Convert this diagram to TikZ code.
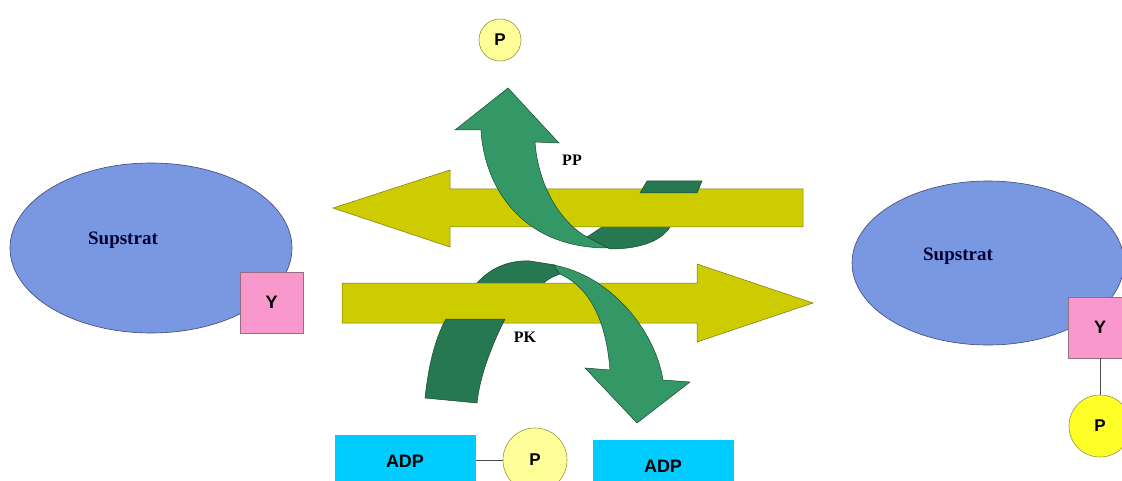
\documentclass[tikz,border=0pt]{standalone}
\usepackage{fontspec}
\setmainfont{Liberation Serif}
\newfontfamily\arialf{Liberation Sans}
\usetikzlibrary{shapes.geometric}
\definecolor{subblue}{RGB}{122,152,226}
\definecolor{subedge}{RGB}{60,70,120}
\definecolor{ypink}{RGB}{248,152,204}
\definecolor{yedge}{RGB}{150,110,130}
\definecolor{adpcyan}{RGB}{0,204,255}
\definecolor{plight}{RGB}{255,255,153}
\definecolor{pbright}{RGB}{255,255,40}
\definecolor{pedge}{RGB}{150,150,60}
\definecolor{olivey}{RGB}{204,204,0}
\definecolor{olivee}{RGB}{120,120,20}
\definecolor{gfront}{RGB}{52,152,102}
\definecolor{gback}{RGB}{38,120,80}
\definecolor{gedge}{RGB}{25,70,45}
\begin{document}
\begin{tikzpicture}[x=1pt,y=-1pt,
  substrate/.style={ellipse,draw=subedge,line width=0.6pt,fill=subblue,inner sep=0pt},
  ybox/.style={draw=yedge,line width=0.6pt,fill=ypink,inner sep=0pt,minimum width=63pt,minimum height=61pt,font=\arialf\fontsize{18}{20}\selectfont\bfseries},
  pcirc/.style={circle,draw=pedge,line width=0.6pt,inner sep=0pt,font=\arialf\fontsize{17}{20}\selectfont\bfseries},
  adpbox/.style={fill=adpcyan,inner sep=0pt,minimum width=141pt,minimum height=55pt},
  adptext/.style={font=\arialf\fontsize{18}{20}\selectfont\bfseries,inner sep=0pt},
  subtext/.style={font=\fontsize{19}{22}\selectfont\bfseries,text=black!80!blue,inner sep=0pt},
  enztext/.style={font=\fontsize{16}{18}\selectfont\bfseries,inner sep=0pt},
  yarrow/.style={fill=olivey,draw=olivee,line width=0.5pt,line join=miter},
  gfr/.style={fill=gfront,draw=gedge,line width=0.5pt},
  gbk/.style={fill=gback,draw=gedge,line width=0.5pt},
  link/.style={draw=black!70,line width=0.7pt}
]
\path[use as bounding box] (0,0) rectangle (1122,481);
\clip (0,0) rectangle (1122,481);

% left substrate
\node[substrate,minimum width=282pt,minimum height=170pt] (subL) at (151,248) {};
\node[subtext] (subLt) at (123,240) {Supstrat};
\node[ybox] (yL) at (271.5,302.5) {Y};

% right substrate
\node[substrate,minimum width=272pt,minimum height=164pt] (subR) at (988,263) {};
\node[subtext] (subRt) at (958,256) {Supstrat};
\node[ybox,minimum width=64pt] (yR) at (1100,327.5) {Y};
\node[pcirc,fill=pbright,minimum size=62pt] (pR) at (1100,426) {P};
\draw[link] (yR.south) -- (pR.north);

% top P
\node[pcirc,fill=plight,minimum size=42pt] (pTop) at (500,40) {P};

% bottom ADP + P
\node[adpbox,anchor=north west] (adpL) at (335,435) {};
\node[adptext] (adpLt) at (405,461) {ADP};
\node[pcirc,fill=plight,minimum size=64pt] (pB) at (535,460) {P};
\draw[link] (adpL.east |- pB.west) -- (pB.west);
\node[adpbox,anchor=north west] (adpR) at (593,440) {};
\node[adptext] (adpRt) at (663,466) {ADP};

% ---- PP ribbon: back parts (behind upper yellow arrow)
\path[gbk] (587,237) -- (605,225) -- (640,195) -- (695,195) -- (670,227)
  .. controls (662,240) and (642,249) .. (610,249) -- cycle;
% ---- PK ribbon: back arch (behind lower yellow arrow)
\path[gbk] (470,292) -- (477,283) .. controls (492,266) and (512,260) .. (530,261)
  -- (555,265) -- (560,274) .. controls (552,277) and (546,280) .. (542,285) -- (530,300) -- cycle;

% upper yellow arrow (pointing left)
\path[yarrow] (803,189) -- (450,189) -- (450,170) -- (333,208) -- (450,247) -- (450,227) -- (803,227) -- cycle;
% lower yellow arrow (pointing right)
\path[yarrow] (342,283) -- (697,283) -- (697,264) -- (813,303) -- (697,342) -- (697,323) -- (342,323) -- cycle;

% PP tail piece on top of yellow
\path[gbk] (640,193) -- (647,181) -- (702,181) -- (697,193) -- cycle;
% PP front part with head
\path[gfr] (587,237) .. controls (560,222) and (538,185) .. (535,142) -- (559,143) -- (508,88)
  -- (455,130) -- (481,130) .. controls (484,185) and (520,248) .. (608,248) -- cycle;

% PK tail piece below lower arrow
\path[gbk] (446,319) -- (505,319) .. controls (492,345) and (480,375) .. (477,403)
  -- (425,398) .. controls (428,370) and (434,340) .. (446,319) -- cycle;
% PK front part with head
\path[gfr] (553,265) .. controls (610,275) and (655,330) .. (663,380) -- (690,382) -- (637,423)
  -- (585,368) -- (610,370) .. controls (606,320) and (590,288) .. (560,274) -- cycle;

% enzyme labels
\node[enztext] (pp) at (572,160) {PP};
\node[enztext] (pk) at (525,337) {PK};
\end{tikzpicture}
\end{document}
